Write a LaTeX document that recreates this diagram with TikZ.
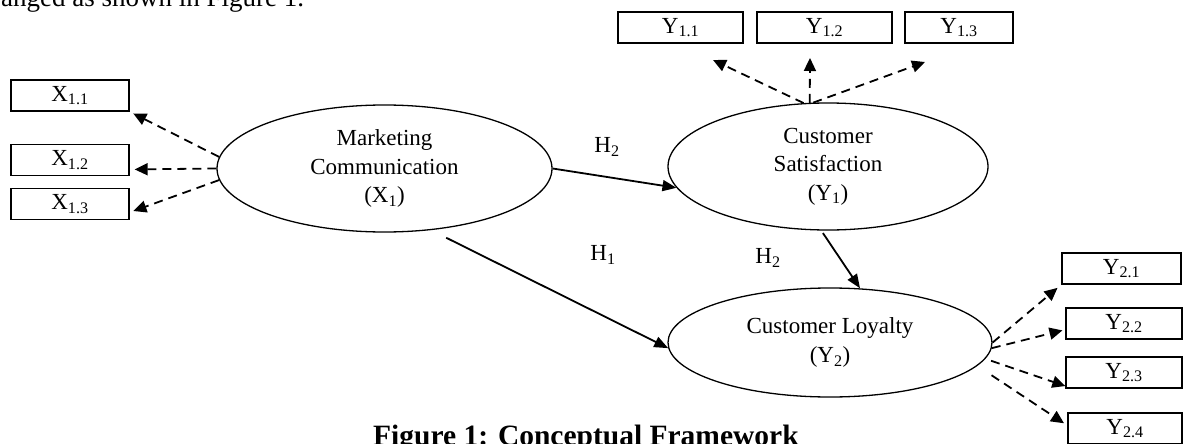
\documentclass[tikz,border=0pt]{standalone}
\usepackage{fontspec}
\setmainfont{Liberation Serif}
\usepackage{tikz}
\usetikzlibrary{arrows.meta, shapes.geometric, calc}
\tikzset{>=latex}
\tikzset{
latent/.style={draw, ellipse, line width=1.3pt, inner sep=0pt, align=center, font=\fontsize{23}{28.5}\selectfont},
manifest/.style={draw, rectangle, line width=1.3pt, inner sep=0pt, minimum height=31pt, font=\fontsize{23}{26}\selectfont},
loading/.style={-{Triangle[length=13pt,width=12pt]}, line width=1.8pt, dash pattern=on 9pt off 6pt},
effect/.style={-{Triangle[length=14pt,width=11pt]}, line width=1.8pt},
hlabel/.style={inner sep=0pt, font=\fontsize{23}{26}\selectfont},
}

\begin{document}
\begin{tikzpicture}[x=1pt, y=-1pt]
\clip (0,0) rectangle (1183,444);
\fill[white] (0,0) rectangle (1183,444);
% text of the page round the figure
\node[anchor=base west, inner sep=0pt, font=\fontsize{27}{30}\selectfont] (body) at (1,7) {anged as shown in Figure 1.};
\node[anchor=base west, inner sep=0pt, font=\bfseries\fontsize{29.5}{32}\selectfont] (cap) at (373,445) {Figure 1: Conceptual Framework};
% constructs
\node[latent, minimum width=335pt, minimum height=127pt] (mc) at (384.5,168.5) {Marketing\\Communication\\(X\textsubscript{1})};
\node[latent, minimum width=320pt, minimum height=127pt] (cs) at (828,166.5) {Customer\\Satisfaction\\(Y\textsubscript{1})};
\node[latent, minimum width=324pt, minimum height=109pt] (cl) at (830,342.5) {Customer Loyalty\\(Y\textsubscript{2})};
% indicators
\node[manifest, minimum width=118pt] (x11) at (70,95.5) {X\textsubscript{1.1}};
\node[manifest, minimum width=118pt] (x12) at (70,160) {X\textsubscript{1.2}};
\node[manifest, minimum width=118pt] (x13) at (70,204) {X\textsubscript{1.3}};
\node[manifest, minimum width=125pt] (y11) at (680.5,27.5) {Y\textsubscript{1.1}};
\node[manifest, minimum width=135pt] (y12) at (824.5,27.5) {Y\textsubscript{1.2}};
\node[manifest, minimum width=108pt] (y13) at (959,27.5) {Y\textsubscript{1.3}};
\node[manifest, minimum width=119pt] (y21) at (1121.5,268.5) {Y\textsubscript{2.1}};
\node[manifest, minimum width=116pt] (y22) at (1124,323.5) {Y\textsubscript{2.2}};
\node[manifest, minimum width=116pt] (y23) at (1124,372.5) {Y\textsubscript{2.3}};
\node[manifest, minimum width=114pt] (y24) at (1125,428.5) {Y\textsubscript{2.4}};
% hypotheses
\node[hlabel] (h2a) at (607,147) {H\textsubscript{2}};
\node[hlabel] (h1) at (603,255) {H\textsubscript{1}};
\node[hlabel] (h2b) at (768,258) {H\textsubscript{2}};
\draw[effect] (mc.east) -- (cs.188);
\draw[effect, shorten <=17pt] (mc.-53) -- (cl.182);
\draw[effect, shorten <=3pt] (cs.264) -- (cl.61);
% loadings
\draw[loading, shorten >=4pt] (mc.176) -- (x11.south east);
\draw[loading, shorten >=5pt] (mc.west) -- (x12.-9);
\draw[loading, shorten >=4pt] (mc.184) -- (x13.-8);
\coordinate (ty11) at (713,60);
\coordinate (ty12) at (810,58);
\coordinate (ty13) at (925,62);
\draw[loading] (cs.111) -- (ty11);
\draw[loading] (cs.106) -- (ty12);
\draw[loading] (cs.103) -- (ty13);
\draw[loading, shorten >=5pt] (cl.east) -- (y21.south west);
\draw[loading, shorten >=3pt] (cl.-2) -- (y22.186);
\draw[loading, shorten <=6pt] (cl.-6) -- (y23.193);
\draw[loading, shorten <=17pt, shorten >=4pt] (cl.-9) -- (y24.177);
\end{tikzpicture}
\end{document}
